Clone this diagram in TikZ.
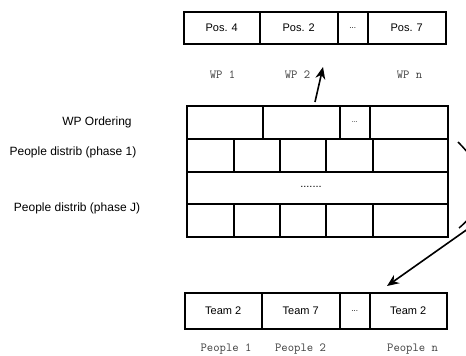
\documentclass[tikz,border=0pt]{standalone}
\usepackage{fontspec}
\setmainfont{Liberation Sans}
\usetikzlibrary{arrows.meta}
\tikzset{
  cell/.style={draw, line width=1.5pt, inner sep=0pt, anchor=north west, font=\fontsize{11}{13}\selectfont},
  small/.style={font=\fontsize{8}{9}\selectfont},
  lbl/.style={font=\fontsize{12}{14}\selectfont, inner sep=0pt},
  mlbl/.style={font=\ttfamily\fontsize{12.3}{14}\selectfont, text=black!75, inner sep=0pt},
  conn/.style={line width=1.6pt, -{Stealth[length=12pt,width=10pt]}},
  curve/.style={line width=1.5pt}
}
\begin{document}
\begin{tikzpicture}[x=1pt,y=-1pt]
\clip (0,0) rectangle (466,356);
\fill[white] (0,0) rectangle (466,356);
% top array
\node[cell, minimum width=76pt, minimum height=32pt] (t1) at (183,11) {Pos. 4};
\node[cell, minimum width=78pt, minimum height=32pt] (t2) at (259,11) {Pos. 2};
\node[cell, small, minimum width=30pt, minimum height=32pt] (t3) at (337,11) {...};
\node[cell, minimum width=78pt, minimum height=32pt] (t4) at (367,11) {Pos. 7};
\node[mlbl] (wp1) at (222.5,75) {WP 1};
\node[mlbl] (wp2) at (297.5,75) {WP 2};
\node[mlbl] (wpn) at (409.5,75) {WP n};
% middle grid row 1
\node[cell, minimum width=76pt, minimum height=33pt] (g11) at (186,105) {};
\node[cell, minimum width=77pt, minimum height=33pt] (g12) at (262,105) {};
\node[cell, minimum width=30pt, minimum height=33pt, font=\fontsize{7}{8}\selectfont] (g13) at (339,105) {...};
\node[cell, minimum width=78pt, minimum height=33pt] (g14) at (369,105) {};
% row 2
\node[cell, minimum width=47pt, minimum height=33pt] (g21) at (186,138) {};
\node[cell, minimum width=46pt, minimum height=33pt] (g22) at (233,138) {};
\node[cell, minimum width=46pt, minimum height=33pt] (g23) at (279,138) {};
\node[cell, minimum width=47pt, minimum height=33pt] (g24) at (325,138) {};
\node[cell, minimum width=75pt, minimum height=33pt] (g25) at (372,138) {};
% row 3
\node[cell, minimum width=261pt, minimum height=32pt] (g3) at (186,171) {};
\node[font=\fontsize{11}{13}\selectfont, inner sep=0pt] (dots) at (311,187) {.......};
% row 4
\node[cell, minimum width=47pt, minimum height=33pt] (g41) at (186,203) {};
\node[cell, minimum width=46pt, minimum height=33pt] (g42) at (233,203) {};
\node[cell, minimum width=46pt, minimum height=33pt] (g43) at (279,203) {};
\node[cell, minimum width=47pt, minimum height=33pt] (g44) at (325,203) {};
\node[cell, minimum width=75pt, minimum height=33pt] (g45) at (372,203) {};
% left labels
\node[lbl] (lwp) at (97,122) {WP Ordering};
\node[lbl] (lp1) at (73,152) {People distrib (phase 1)};
\node[lbl] (lpj) at (77,208) {People distrib (phase J)};
% bottom array
\node[cell, minimum width=77pt, minimum height=36pt] (b1) at (184,292) {Team 2};
\node[cell, minimum width=78pt, minimum height=36pt] (b2) at (261,292) {Team 7};
\node[cell, small, minimum width=30pt, minimum height=36pt] (b3) at (339,292) {...};
\node[cell, minimum width=77pt, minimum height=36pt] (b4) at (369,292) {Team 2};
\node[mlbl] (p1) at (226,349) {People 1};
\node[mlbl] (p2) at (300.5,349) {People 2};
\node[mlbl] (pn) at (412.5,349) {People n};
% connectors
\coordinate (a1s) at (315,102);
\coordinate (a1e) at (323,67);
\draw[conn] (a1s) -- (a1e);
\coordinate (c1) at (458,142);
\coordinate (c2) at (459,228);
\draw[curve] (c1) .. controls (490,174) and (492,200) .. (c2);
\coordinate (a2s) at (472,226);
\coordinate (a2e) at (387,286);
\draw[conn] (a2s) -- (a2e);
\end{tikzpicture}
\end{document}
